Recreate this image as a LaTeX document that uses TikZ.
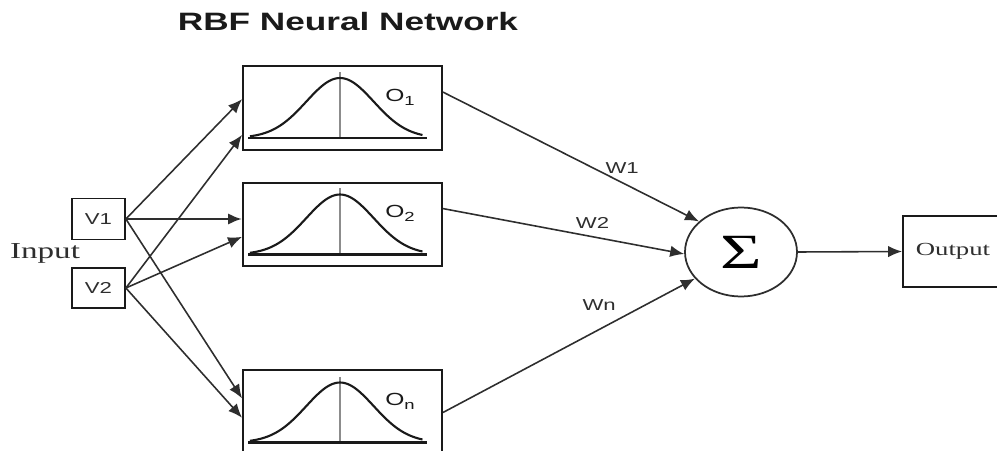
\documentclass[tikz,border=0pt]{standalone}
\usepackage{fontspec}
\setmainfont{Liberation Sans}[FakeStretch=1.4]
\newfontfamily\wideserif{Liberation Serif}[FakeStretch=1.45]
\usetikzlibrary{arrows.meta, positioning, calc, shapes.geometric}
\definecolor{inkDark}{HTML}{1A1A1A}
\definecolor{inkGray}{HTML}{2E2E2E}
\definecolor{axisGray}{HTML}{8C8C8C}

\begin{document}
\begin{tikzpicture}[
  >={Latex[length=2.8mm, width=2.3mm]},
  every node/.style={align=center},
  inbox/.style={rectangle, draw=inkDark, line width=1pt, inner sep=0pt,
                minimum width=10.6mm, minimum height=8.2mm,
                font=\fontsize{9}{11}\selectfont, text=inkGray},
  rbfbox/.style={rectangle, draw=inkDark, line width=1.1pt, inner sep=0pt,
                 minimum width=39.8mm, minimum height=16.8mm},
  sumnode/.style={ellipse, draw=inkGray, line width=1pt, inner sep=0pt,
                  minimum width=22.4mm, minimum height=17.8mm,
                  font=\wideserif\fontsize{28}{30}\selectfont},
  outbox/.style={rectangle, draw=inkDark, line width=1pt, inner sep=0pt,
                 minimum width=20mm, minimum height=14.2mm},
  arrow/.style={->, draw=inkGray, line width=0.9pt},
  mainarrow/.style={arrow, line width=1.5pt},
  curve/.style={draw=inkDark, line width=1.2pt},
  wlabel/.style={font=\fontsize{9}{11}\selectfont, text=inkGray},
]

% ── Frame ─────────────────────────────────────────────────────────
\clip (0,0) rectangle (19.94,9);

% ── Grid coordinates ──────────────────────────────────────────────
\def\colIn{1.97}     % input column x
\def\colRbf{6.85}    % hidden (rbf) column x
\def\colSum{14.82}   % summation x

% ── Nodes ─────────────────────────────────────────────────────────
\node[font=\fontsize{14.3}{16}\selectfont\bfseries, text=inkDark]
  (title) at (6.96,8.56) {RBF Neural Network};

\node[inbox] (v1) at (\colIn,4.62) {V1};
\node[inbox, minimum height=8mm] (v2) at (\colIn,3.24) {V2};
\node[font=\wideserif\fontsize{13}{15}\selectfont, text=inkGray]
  (input) at (0.9,3.94) {Input};

\node[rbfbox] (box1) at (\colRbf,6.84) {};
\node[rbfbox, minimum height=16.6mm] (box2) at (\colRbf,4.51) {};
\node[rbfbox, minimum height=17mm] (boxN) at (\colRbf,0.75) {};

\node[sumnode] (sum) at (\colSum,3.96) {Σ};
\node[outbox, font=\wideserif\fontsize{10.5}{13}\selectfont, text=inkGray]
  (output) at (19.06,3.97) {Output};

% ── Gaussian inside each hidden box ───────────────────────────────
\foreach \bx/\lab in {box1/1, box2/2, boxN/n} {
  \begin{scope}[shift={(\bx.center)}]
    \draw[axisGray, line width=0.8pt] (-0.05,-0.6) -- (-0.05,0.72);
    \draw[curve] (-1.89,-0.6) -- (1.69,-0.6);
    \draw[curve] plot[domain=-1.8:1.65, samples=70, smooth]
      (\x-0.05, {-0.6+1.2*exp(-1.1*pow(\x,2))});
  \end{scope}
  \node[font=\fontsize{10}{12}\selectfont, text=inkDark]
    (lab-\bx) at ($(\bx.center)+(1.15,0.22)$)
    {O\raisebox{-0.45ex}{\fontsize{7.5}{9}\selectfont\lab}};
}

% ── Input to hidden ───────────────────────────────────────────────
\draw[arrow]     (v1.east) -- (box1.175);
\draw[arrow]     (v2.east) -- (box1.195);
\draw[mainarrow] (v1.east) -- (v1.east -| box2.west);
\draw[arrow]     (v2.east) -- (box2.187);
\draw[arrow]     (v1.east) -- (boxN.172);
\draw[arrow]     (v2.east) -- (boxN.183);

% ── Hidden to sum, weighted ───────────────────────────────────────
\draw[arrow] (box1.9) -- node[wlabel, pos=0.7, above=0.5mm] (w1) {W1} (sum.144);
\draw[arrow] (box2.9) -- node[wlabel, pos=0.62, above=0.3mm] (w2) {W2} (sum.182);
\draw[arrow] (boxN.east) -- node[wlabel, pos=0.62, above=2.5mm] (wn) {Wn} (sum.210);

% ── Sum to output ─────────────────────────────────────────────────
\draw[arrow] (sum.east) -- (output.west);

\end{tikzpicture}
\end{document}
